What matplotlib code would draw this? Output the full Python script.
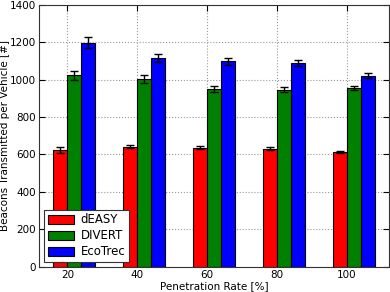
import matplotlib
matplotlib.use('Agg')
import matplotlib.pyplot as plt
import numpy as np

# penetration rates on x axis
rates = [20, 40, 60, 80, 100]
labels = ['dEASY', 'DIVERT', 'EcoTrec']
colors = ['#ff0000', '#008000', '#0000ff']

# beacons per vehicle (mean, error)
deasy = [623, 642, 635, 630, 615]
deasy_err = [15, 10, 8, 8, 5]
divert = [1024, 1004, 951, 947, 954]
divert_err = [25, 20, 15, 12, 10]
ecotrec = [1198, 1115, 1099, 1091, 1022]
ecotrec_err = [28, 20, 18, 15, 12]

series = [(deasy, deasy_err), (divert, divert_err), (ecotrec, ecotrec_err)]

fig = plt.figure(figsize=(3.9, 2.92), dpi=100)
ax = fig.add_axes([0.101, 0.087, 0.896, 0.896])

width = 4
x = np.array(rates)
for i, (vals, errs) in enumerate(series):
    ax.bar(x - 4 + i * width, vals, width, align='edge', color=colors[i],
           edgecolor='black', linewidth=0.8, label=labels[i], zorder=2)
    ax.errorbar(x - 4 + i * width + width / 2, vals, yerr=errs, fmt='none',
                ecolor='black', elinewidth=1, capsize=3, capthick=1, zorder=3)

ax.set_xlim(12, 112)
ax.set_ylim(0, 1400)
ax.set_xticks(rates)
ax.set_yticks(range(0, 1401, 200))
ax.tick_params(direction='in', labelsize=7.5, length=4, pad=2.5, top=True, right=True)
ax.grid(True, linestyle=':', color='#999999', linewidth=0.8, zorder=0)
ax.set_axisbelow(True)
for s in ax.spines.values():
    s.set_color('#333333')
ax.set_xlabel('Penetration Rate [%]', fontsize=7.5, labelpad=1)
ax.set_ylabel('Beacons Transmitted per Vehicle [#]', fontsize=7.5, labelpad=0)

leg = ax.legend(loc='lower left', fontsize=8.5, fancybox=False, framealpha=1,
                edgecolor='#333333', handlelength=2.2, handleheight=0.8,
                borderaxespad=0.4, handletextpad=0.6, labelspacing=0.25,
                borderpad=0.3)
leg.get_frame().set_linewidth(0.8)

fig.savefig('out.png', dpi=100)
